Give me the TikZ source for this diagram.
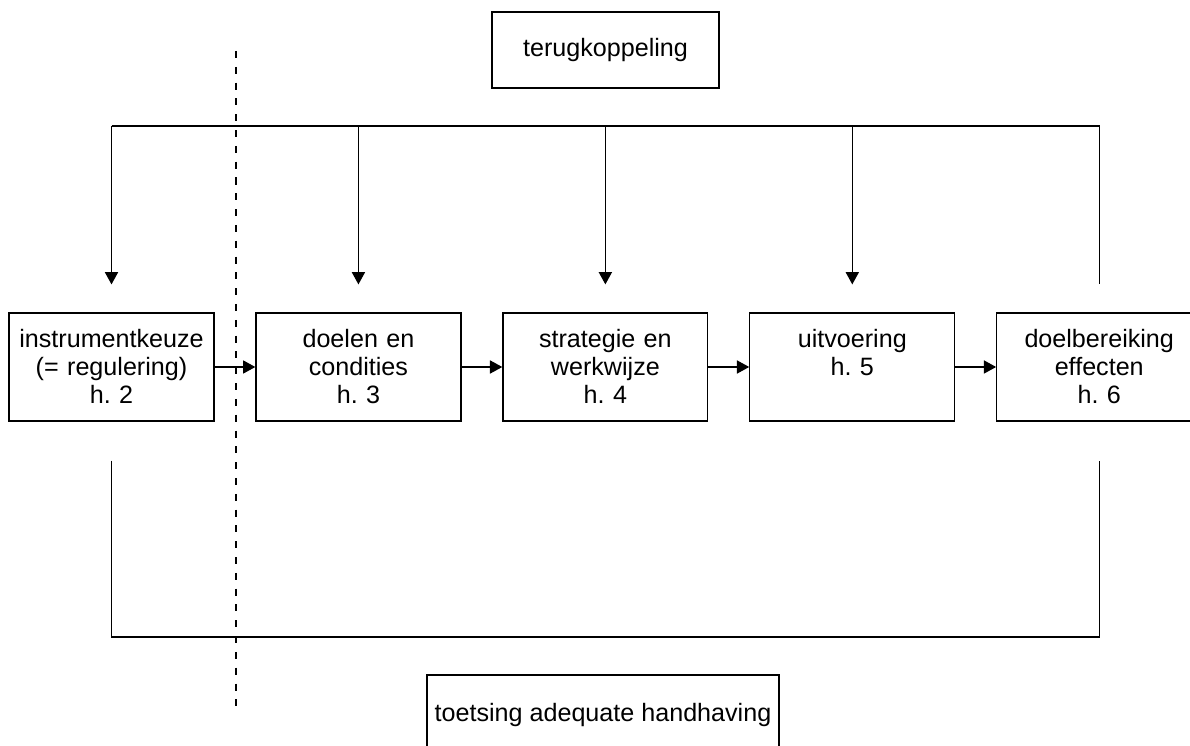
\documentclass[tikz,border=0pt]{standalone}
\usepackage{fontspec}
\setmainfont{Liberation Sans}
\usetikzlibrary{arrows.meta,positioning}
\tikzset{
  fbbox/.style={draw, line width=0.7pt, inner sep=0pt, text width=4.1cm, align=center,
    text height=0.68cm, text depth=1.48cm, font=\fontsize{14.3}{16.2}\selectfont},
  fbtitle/.style={draw, line width=0.7pt, inner sep=0pt, font=\fontsize{14.3}{16.2}\selectfont},
  fbarrow/.style={-{Triangle[length=7pt,width=7.5pt]}, line width=0.7pt},
  fbline/.style={line width=0.7pt},
  fbdash/.style={line width=0.7pt, dash pattern=on 4pt off 5pt},
}

\begin{document}
\frenchspacing
\begin{tikzpicture}[x=0.02cm, y=-0.02cm]
  \useasboundingbox (0,0) rectangle (1190,746);
  \clip (0,0) rectangle (1190,746);

  \node[fbtitle, minimum width=4.54cm, minimum height=1.52cm] (fb) at (605.5,50) {terugkoppeling};
  \node[fbtitle, minimum width=7.04cm, minimum height=1.6cm] (ta) at (603,715) {toetsing adequate handhaving};

  \node[fbbox] (b1) at (111.5,367) {instrumentkeuze\\(= regulering)\\h. 2};
  \node[fbbox, right=0.815cm of b1] (b2) {doelen en\\condities\\h. 3};
  \node[fbbox, right=0.815cm of b2] (b3) {strategie en\\werkwijze\\h. 4};
  \node[fbbox, right=0.815cm of b3] (b4) {uitvoering\\h. 5};
  \node[fbbox, right=0.815cm of b4] (b5) {doelbereiking\\effecten\\h. 6};

  \coordinate (fbtop) at (0,126);
  \coordinate (fbbot) at (0,637);
  \coordinate (dtop) at (236,51);
  \coordinate (dbot) at (236,713);

  % terugkoppeling
  \draw[fbline] (b1.north |- fbtop) -- (b5.north |- fbtop) -- ([yshift=0.56cm]b5.north);
  \foreach \b in {b1,b2,b3,b4}
    \draw[fbarrow] (\b.north |- fbtop) -- ([yshift=0.56cm]\b.north);

  % keten
  \draw[fbarrow] (b1) -- (b2);
  \draw[fbarrow] (b2) -- (b3);
  \draw[fbarrow] (b3) -- (b4);
  \draw[fbarrow] (b4) -- (b5);

  % toetsing
  \draw[fbline] ([yshift=-0.78cm]b1.south) -- (b1.south |- fbbot) -- (b5.south |- fbbot) -- ([yshift=-0.78cm]b5.south);

  \draw[fbdash] (dtop) -- (dbot);
\end{tikzpicture}
\end{document}
